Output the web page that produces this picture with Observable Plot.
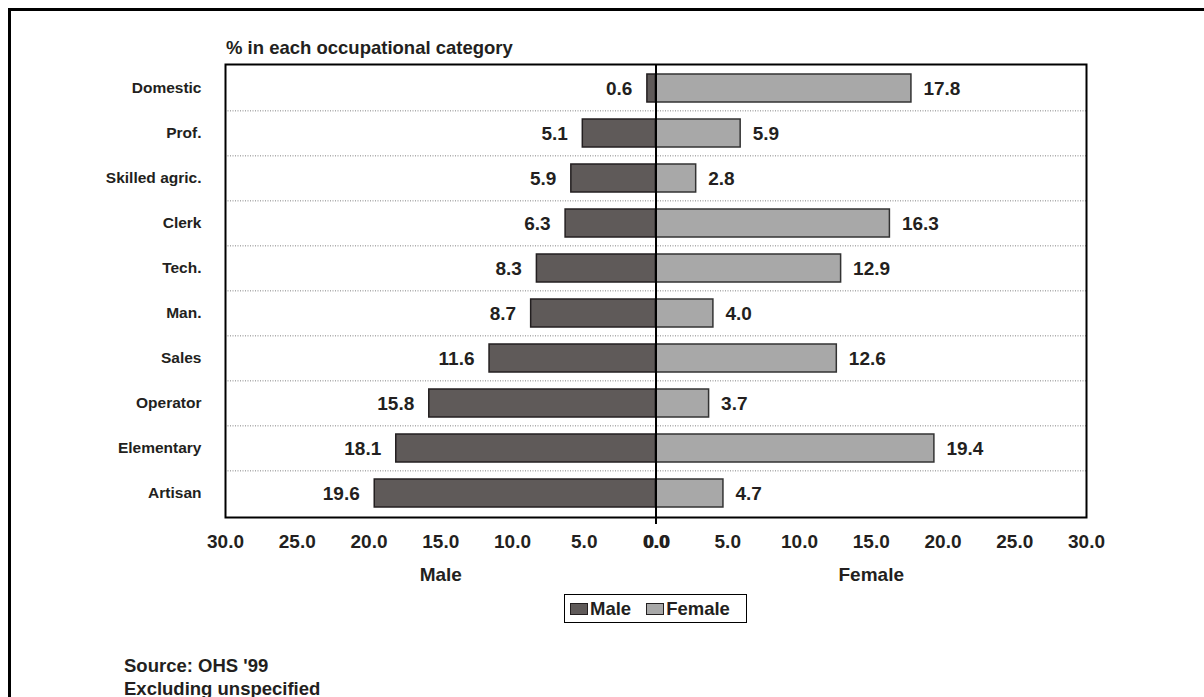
<!DOCTYPE html>
<html>
<head>
<meta charset="utf-8">
<script src="https://cdn.jsdelivr.net/npm/d3@7"></script>
<script src="https://cdn.jsdelivr.net/npm/@observablehq/plot@0.6"></script>
<style>
  html, body { margin: 0; padding: 0; background: #fff; overflow: hidden; }
  body { width: 1204px; height: 697px; position: relative; font-family: "Liberation Sans", Arial, sans-serif; font-weight: bold; color: #231f20; }
  #chart { position: absolute; left: 0; top: 0; }
  .outer { position: absolute; left: 8px; top: 8px; width: 1400px; height: 900px; border: 3px solid #000; box-sizing: border-box; }
  .title { position: absolute; left: 226px; top: 37px; font-size: 18.5px; white-space: nowrap; }
  .legend { position: absolute; left: 564px; top: 594px; width: 183px; height: 29px; border: 1.5px solid #000; box-sizing: border-box; display: flex; align-items: center; font-size: 18.5px; white-space: nowrap; }
  .legend .sw { display: inline-block; width: 16px; height: 10px; border: 1.5px solid #231f20; margin: 0 2px 0 5px; }
  .legend .item { display: inline-flex; align-items: center; margin-right: 10px; }
  .source { position: absolute; left: 124px; top: 654px; font-size: 18.5px; line-height: 23px; white-space: nowrap; }
</style>
</head>
<body>
<div class="outer"></div>
<div id="chart"></div>
<div class="title">% in each occupational category</div>
<div class="legend" id="legend"></div>
<div class="source">Source: OHS '99<br>Excluding unspecified</div>
<script>
// ---- data ----
const categories = ["Domestic", "Prof.", "Skilled agric.", "Clerk", "Tech.", "Man.", "Sales", "Operator", "Elementary", "Artisan"];
const maleValues = [0.6, 5.1, 5.9, 6.3, 8.3, 8.7, 11.6, 15.8, 18.1, 19.6];
const femaleValues = [17.8, 5.9, 2.8, 16.3, 12.9, 4.0, 12.6, 3.7, 19.4, 4.7];
const seriesNames = ["Male", "Female"];
const seriesColors = ["#5f5a59", "#a8a8a8"];
const xTicks = [-30, -25, -20, -15, -10, -5, 0, 5, 10, 15, 20, 25, 30];
const xMax = 30;

const male = categories.map((c, i) => ({category: c, value: maleValues[i]}));
const female = categories.map((c, i) => ({category: c, value: femaleValues[i]}));

const W = 1204, H = 697;
const mTop = 64, mBottom = 180, mLeft = 225, mRight = 118;
const step = (H - mTop - mBottom) / categories.length;

const font = {fontSize: 19, fontWeight: "bold", fill: "#231f20"};

const chart = Plot.plot({
  width: W,
  height: H,
  marginTop: mTop,
  marginBottom: mBottom,
  marginLeft: mLeft,
  marginRight: mRight,
  style: {fontFamily: "'Liberation Sans', Arial, sans-serif", background: "transparent"},
  x: {domain: [-xMax, xMax]},
  y: {domain: categories, paddingInner: 0.38, paddingOuter: 0.19},
  marks: [
    // dotted gridlines between categories
    Plot.ruleY(categories.slice(1), {y: d => d, dy: -step / 2, stroke: "#808080", strokeWidth: 1, strokeDasharray: "1,1.5"}),
    Plot.barX(male, {y: "category", x1: 0, x2: d => -d.value, fill: seriesColors[0], stroke: "#231f20", strokeWidth: 1.5}),
    Plot.barX(female, {y: "category", x1: 0, x2: d => d.value, fill: seriesColors[1], stroke: "#333", strokeWidth: 1.5}),
    Plot.text(male, {y: "category", x: d => -d.value, text: d => d.value.toFixed(1), textAnchor: "end", dx: -15, ...font}),
    Plot.text(female, {y: "category", x: d => d.value, text: d => d.value.toFixed(1), textAnchor: "start", dx: 12, ...font}),
    Plot.ruleX([0], {stroke: "#000", strokeWidth: 2, insetBottom: -7}),
    Plot.frame({stroke: "#000", strokeWidth: 2}),
    Plot.axisX({ticks: xTicks, tickSize: 0, tickPadding: 17, tickFormat: d => Math.abs(d).toFixed(1), ...font}),
    Plot.axisX({ticks: [0], tickSize: 0, tickPadding: 17, dx: 1, tickFormat: d => Math.abs(d).toFixed(1), ...font}),
    Plot.axisY({tickSize: 0, tickPadding: 24, fontSize: 15.5, fontWeight: "bold", fill: "#231f20", label: null}),
    Plot.text(seriesNames, {x: (d, i) => (i === 0 ? -xMax / 2 : xMax / 2), text: d => d, frameAnchor: "bottom", dy: 63, ...font})
  ]
});
document.getElementById("chart").appendChild(chart);

const legend = document.getElementById("legend");
seriesNames.forEach((name, i) => {
  const item = document.createElement("span");
  item.className = "item";
  const sw = document.createElement("span");
  sw.className = "sw";
  sw.style.background = seriesColors[i];
  item.appendChild(sw);
  item.appendChild(document.createTextNode(name));
  legend.appendChild(item);
});
</script>
</body>
</html>
